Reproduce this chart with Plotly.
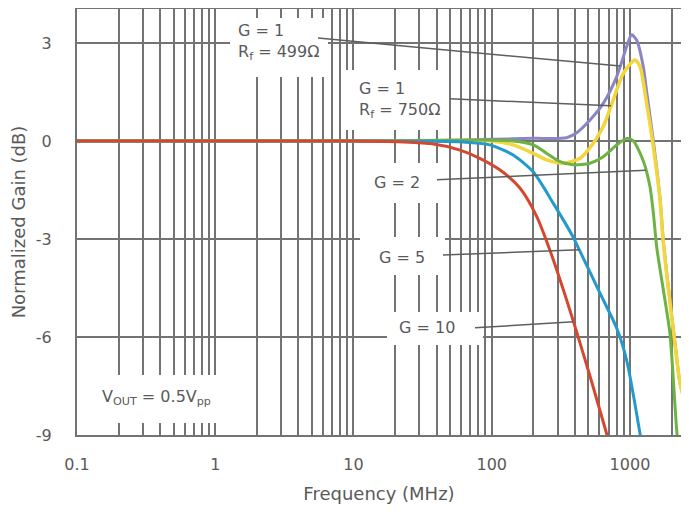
import numpy as np
import plotly.graph_objects as go

# ---------------- data ----------------
freq_g1_499 = [0.1, 1, 10, 50, 100, 200, 348, 412, 514, 641, 802, 947, 1028, 1117, 1249,
               1321, 1476, 1649, 1742, 1893, 2100, 2300, 2673, 2900]
gain_g1_499 = [0, 0, 0, 0.02, 0.05, 0.08, 0.1, 0.25, 0.64, 1.15, 1.97, 2.89, 3.25, 3.09, 2.27,
               1.5, 0.0, -1.75, -3.05, -4.45, -6.05, -7.4, -8.45, -9.0]

freq_g1_750 = [0.1, 1, 10, 50, 100, 143, 200, 250, 330, 436, 543, 641, 757, 895, 1087, 1183,
               1321, 1476, 1649, 1742, 1893, 2100, 2300, 2673, 2900]
gain_g1_750 = [0, 0, 0, 0.01, 0, -0.12, -0.38, -0.58, -0.68, -0.53, -0.07, 0.44, 1.26, 2.07,
               2.48, 2.27, 1.15, -0.18, -1.8, -3.1, -4.5, -6.1, -7.4, -8.45, -9.0]

freq_g2 = [0.1, 1, 10, 50, 82, 143, 200, 250, 312, 389, 514, 641, 802, 947, 1057, 1249,
           1396, 1476, 1567, 1750, 1947, 2188, 2400]
gain_g2 = [0, 0, 0, 0.02, 0.03, 0, -0.12, -0.38, -0.63, -0.73, -0.68, -0.48, -0.12, 0.08, 0.0,
           -0.61, -1.4, -2.2, -3.3, -4.6, -5.9, -8.95, -10.5]

freq_g5 = [0.1, 1, 10, 30, 62, 97, 143, 200, 279, 389, 421, 607, 805, 951, 1181, 1350]
gain_g5 = [0, 0, 0, -0.01, -0.03, -0.12, -0.43, -0.95, -1.91, -2.95, -3.25, -4.66, -5.75,
           -6.75, -8.95, -10.5]

freq_g10 = [0.1, 1, 10, 20, 36, 59, 82, 115, 160, 211, 264, 339, 414, 531, 682, 800]
gain_g10 = [0, 0, 0, -0.02, -0.08, -0.28, -0.53, -0.89, -1.44, -2.3, -3.35, -4.71, -5.88,
            -7.4, -9.0, -10.0]

x_tick_values = [0.1, 1, 10, 100, 1000]
x_tick_labels = ["0.1", "1", "10", "100", "1000"]
y_tick_values = [-9, -6, -3, 0, 3]
y_tick_labels = ["-9", "-6", "-3", "0", "3"]

series_names = ["G = 1, Rf = 499Ω", "G = 1, Rf = 750Ω", "G = 2", "G = 5", "G = 10"]
label_texts = ["G = 1<br>R<sub>f</sub> = 499Ω", "G = 1<br>R<sub>f</sub> = 750Ω",
               "G = 2", "G = 5", "G = 10"]
note_text = "V<sub>OUT</sub> = 0.5V<sub>pp</sub>"

# ---------------- styling / layout ----------------
colors = ["#8a86c6", "#f3d53c", "#6db343", "#2499cb", "#d4482f"]
widths = [3, 3.5, 3, 3, 3]
GRID = "#737373"
TEXT = "#5a5a5a"
Y_RANGE = [-9, 4.04]

series = [(freq_g1_499, gain_g1_499), (freq_g1_750, gain_g1_750), (freq_g2, gain_g2),
          (freq_g5, gain_g5), (freq_g10, gain_g10)]

fig = go.Figure()
for (f, g), name, c, w in zip(series, series_names, colors, widths):
    fig.add_trace(go.Scatter(x=f, y=g, mode="lines", name=name,
                             line=dict(color=c, width=w, shape="spline", smoothing=0.7)))

minor_vals = [m * 10.0 ** d for d in range(-1, 4) for m in range(2, 10)]

# browser body margin offset; plot box in page pixels (figure kept inside the page)
OFF = 8
FIG_W, FIG_H = 689 - 2 * OFF, 512 - 2 * OFF
L, T, B = 77, 9, 435
R = OFF + FIG_W
PX_PER_DEC = 138.24
X_RANGE = [-1, -1 + (R - L) / PX_PER_DEC]

def px2paper(x0, y0, x1, y1):
    return ((x0 - L) / (R - L), (B - y1) / (B - T), (x1 - L) / (R - L), (B - y0) / (B - T))

boxes_px = [(230, 18, 328, 77), (343, 70, 447, 130), (360, 163, 443, 203),
            (360, 237, 445, 275), (387, 312, 483, 345), (85, 375, 228, 423)]
label_pos = [(1.41, 3.02), (10.6, 1.255), (13.6, -1.285), (14.8, -3.58), (20.6, -5.72)]
note_pos = (0.1466, -7.84)
leader_start = [(5.54, 3.15), (49.9, 1.29), (40.2, -1.19), (44.4, -3.49), (75.7, -5.72)]
leader_end_f = [850, 730, 1300, 430, 390]

shapes = []
for b in boxes_px:
    x0, y0, x1, y1 = px2paper(*b)
    shapes.append(dict(type="rect", xref="paper", yref="paper", x0=x0, y0=y0, x1=x1, y1=y1,
                       fillcolor="white", line=dict(width=0), layer="above"))
for (f, g), (sf, sg), ef in zip(series, leader_start, leader_end_f):
    ey = float(np.interp(np.log10(ef), np.log10(f), g))
    shapes.append(dict(type="line", xref="x", yref="y", x0=sf, y0=sg, x1=ef, y1=ey,
                       line=dict(color="#5e5e5e", width=1.5), layer="above"))

annotations = []
for txt, (lf, lg) in zip(label_texts, label_pos):
    annotations.append(dict(x=np.log10(lf), y=lg, xref="x", yref="y", text=txt,
                            showarrow=False, xanchor="left", yanchor="middle", align="left",
                            font=dict(size=16, color=TEXT, family="DejaVu Sans")))
annotations.append(dict(x=np.log10(note_pos[0]), y=note_pos[1], xref="x", yref="y",
                        text=note_text, showarrow=False, xanchor="left", yanchor="middle",
                        font=dict(size=16, color=TEXT, family="DejaVu Sans")))

fig.update_layout(
    width=FIG_W, height=FIG_H,
    margin=dict(l=L - OFF, r=0, t=T - OFF, b=(OFF + FIG_H) - B, pad=0),
    paper_bgcolor="white", plot_bgcolor="white",
    showlegend=False,
    font=dict(family="DejaVu Sans", color=TEXT),
    shapes=shapes, annotations=annotations,
)
fig.update_xaxes(
    type="log", range=X_RANGE,
    tickmode="array", tickvals=x_tick_values, ticktext=x_tick_labels,
    showgrid=True, gridcolor=GRID, gridwidth=2,
    minor=dict(tickvals=minor_vals, showgrid=True, gridcolor=GRID, gridwidth=2),
    showline=True, linecolor=GRID, linewidth=2, mirror=True,
    ticks="", ticklabelstandoff=14, tickfont=dict(size=16, color=TEXT),
    title=dict(text="Frequency (MHz)", font=dict(size=18, color=TEXT), standoff=14),
    zeroline=False, automargin=False,
)
fig.update_yaxes(
    range=Y_RANGE, tickmode="array", tickvals=y_tick_values, ticktext=y_tick_labels,
    showgrid=True, gridcolor=GRID, gridwidth=2,
    showline=True, linecolor=GRID, linewidth=2, mirror=False,
    ticks="", ticklabelstandoff=20, tickfont=dict(size=16, color=TEXT),
    title=dict(text="Normalized Gain (dB)", font=dict(size=18, color=TEXT), standoff=7),
    zeroline=False, automargin=False,
)

fig.write_html("out.html")
